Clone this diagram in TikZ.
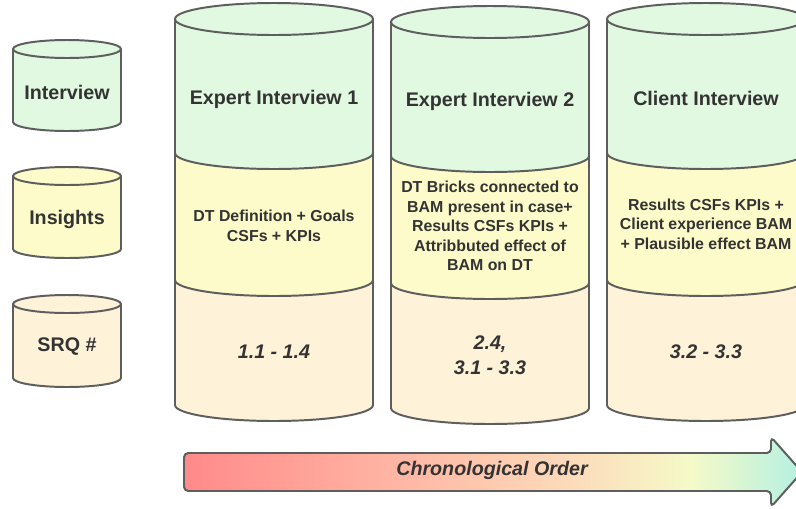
\documentclass[tikz,border=0pt]{standalone}
\usepackage{fontspec}
\setmainfont{Liberation Sans}
\usetikzlibrary{positioning}

\definecolor{edge}{HTML}{5E5E5E}
\definecolor{ink}{HTML}{333333}
\definecolor{mint}{HTML}{E1F9E1}
\definecolor{lemon}{HTML}{FCFBC9}
\definecolor{cream}{HTML}{FEF2D8}
\definecolor{chrA}{HTML}{FF8A8A}
\definecolor{chrB}{HTML}{FFB5A3}
\definecolor{chrC}{HTML}{FCDDBC}
\definecolor{chrD}{HTML}{F5FAC8}
\definecolor{chrE}{HTML}{B5F0E2}
\pgfdeclarehorizontalshading{chrono}{100bp}{color(0bp)=(chrA); color(25bp)=(chrA); color(42bp)=(chrB); color(57bp)=(chrC); color(66bp)=(chrD); color(75bp)=(chrE); color(100bp)=(chrE)}

\begin{document}
\begin{tikzpicture}[x=0.025cm, y=-0.025cm,
			rim/.style={draw=edge, line width=1.4pt, line join=round},
			title/.style={font=\fontsize{14}{17}\selectfont\bfseries, text=ink, align=center},
			insight/.style={font=\fontsize{11.3}{13.9}\selectfont\bfseries, text=ink, align=center},
			srq/.style={font=\fontsize{14}{18}\selectfont\bfseries\itshape, text=ink, align=center}]
			\useasboundingbox (0,0) rectangle (796,508);
			% the three interview drums
			\foreach \cx/\dy in {274/0, 490/3, 706/0}{
				\fill[mint] (\cx-99,19+\dy) -- (\cx-99,153+\dy) arc[start angle=180, end angle=0, x radius=99, y radius=16] -- (\cx+99,19+\dy) -- cycle;
				\fill[lemon] (\cx-99,153+\dy) arc[start angle=180, end angle=0, x radius=99, y radius=16] -- (\cx+99,280+\dy) arc[start angle=0, end angle=180, x radius=99, y radius=16] -- cycle;
				\fill[cream] (\cx-99,280+\dy) arc[start angle=180, end angle=0, x radius=99, y radius=16] -- (\cx+99,405+\dy) arc[start angle=0, end angle=180, x radius=99, y radius=16] -- cycle;
				\draw[rim] (\cx-99,19+\dy) -- (\cx-99,405+\dy) arc[start angle=180, end angle=0, x radius=99, y radius=16] -- (\cx+99,19+\dy);
				\draw[rim] (\cx-99,153+\dy) arc[start angle=180, end angle=0, x radius=99, y radius=16];
				\draw[rim] (\cx-99,280+\dy) arc[start angle=180, end angle=0, x radius=99, y radius=16];
				\draw[rim, fill=mint] (\cx,19+\dy) ellipse[x radius=99, y radius=16];
			}
			% legend drums
			\foreach \ty/\by/\col in {49/122/mint, 176/249/lemon, 304/378/cream}{
				\fill[\col] (13,\ty) -- (13,\by) arc[start angle=180, end angle=0, x radius=54, y radius=9] -- (121,\ty) -- cycle;
				\draw[rim] (13,\ty) -- (13,\by) arc[start angle=180, end angle=0, x radius=54, y radius=9] -- (121,\ty);
				\draw[rim, fill=\col] (67,\ty) ellipse[x radius=54, y radius=9];
			}
			\node[title] (leginterview) at (67,92) {Interview};
			\node[title] (leginsights) at (67,219) {Insights};
			\node[title] (legsrq) at (67,347) {SRQ \#};

			\node[title] (expert1) at (274,99) {Expert Interview 1};
			\node[title] (expert2) at (490,101) {Expert Interview 2};
			\node[title] (client) at (706,98) {Client Interview};
			\node[insight] (ins1) at (274,226) {DT Definition + Goals\\CSFs + KPIs};
			\node[insight] (ins2) at (490,226) {DT Bricks connected to\\BAM present in case+\\Results CSFs KPIs +\\Attribbuted effect of\\BAM on DT};
			\node[insight] (ins3) at (706,224) {Results CSFs KPIs +\\Client experience BAM\\+ Plausible effect BAM};
			\node[srq] (srq1) at (274,352) {1.1 - 1.4};
			\node[srq] (srq2) at (490,355) {2.4,\\3.1 - 3.3};
			\node[srq] (srq3) at (706,352) {3.2 - 3.3};

			% time arrow
			\draw[rim, rounded corners=3pt, shade, shading=chrono] (184,453) -- (771,453) -- (771,437) -- (802,472) -- (771,507) -- (771,491) -- (184,491) -- cycle;
			\node[srq] (order) at (492,470) {Chronological Order};
	\end{tikzpicture}
\end{document}
